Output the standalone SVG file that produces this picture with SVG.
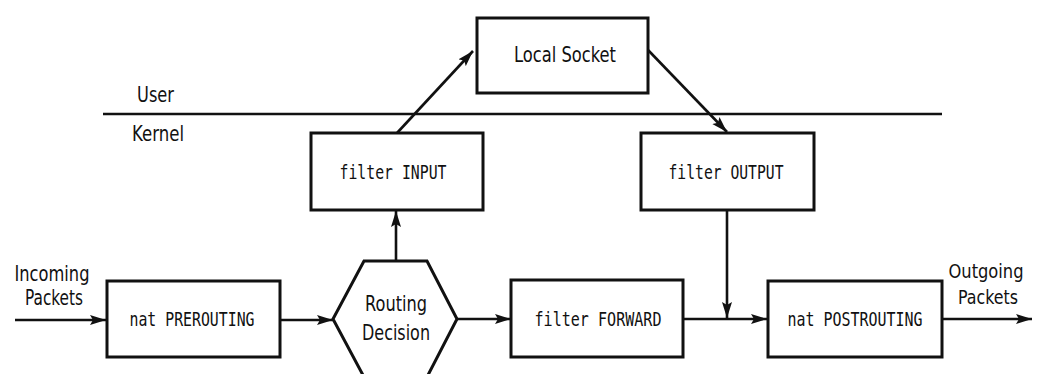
<svg xmlns="http://www.w3.org/2000/svg" width="1039" height="374" viewBox="0 0 1039 374">
<style>
.box{fill:#fff;stroke:#111;stroke-width:3}
.ln{fill:none;stroke:#111;stroke-width:2.6}
.mono{font-family:"DejaVu Sans Mono","Liberation Mono",monospace;font-size:19px;fill:#111;text-anchor:middle;dominant-baseline:central}
.sans{font-family:"DejaVu Sans","Liberation Sans",sans-serif;font-size:21px;fill:#111}
.c{text-anchor:middle}
.tight{font-family:"DejaVu Sans Condensed","DejaVu Sans","Liberation Sans",sans-serif;font-size:20px}
</style>
<defs>
<marker id="ah" markerUnits="userSpaceOnUse" markerWidth="17" markerHeight="11" viewBox="0 0 17 11" refX="16" refY="5.5" orient="auto">
<path d="M0,0.5 L16,5.5 L0,10.5 L3,5.5 Z" fill="#111"/>
</marker>
</defs>
<rect width="1039" height="374" fill="#fff"/>
<g id="boundary">
<line x1="103" y1="114" x2="942" y2="114" class="ln" stroke-width="3"/>
<text class="sans" x="137" y="102" textLength="37" lengthAdjust="spacingAndGlyphs">User</text>
<text class="sans" x="132" y="141" textLength="52" lengthAdjust="spacingAndGlyphs">Kernel</text>
</g>
<g id="connectors">
<line x1="15" y1="320" x2="106" y2="320" class="ln" marker-end="url(#ah)"/>
<line x1="280" y1="320" x2="333" y2="320" class="ln" marker-end="url(#ah)"/>
<line x1="457" y1="319" x2="511" y2="319" class="ln" marker-end="url(#ah)"/>
<line x1="396" y1="261" x2="396" y2="211" class="ln" marker-end="url(#ah)"/>
<line x1="397" y1="133" x2="473" y2="51" class="ln" marker-end="url(#ah)"/>
<line x1="648" y1="50" x2="727" y2="132" class="ln" marker-end="url(#ah)"/>
<line x1="727" y1="210" x2="727" y2="318" class="ln" marker-end="url(#ah)"/>
<line x1="683" y1="319" x2="767" y2="319" class="ln" marker-end="url(#ah)"/>
<line x1="942" y1="319" x2="1032" y2="319" class="ln" marker-end="url(#ah)"/>
</g>
<g id="incoming">
<text class="sans c" x="52" y="281" textLength="75" lengthAdjust="spacingAndGlyphs">Incoming</text>
<text class="sans c" x="54" y="305" textLength="58" lengthAdjust="spacingAndGlyphs">Packets</text>
</g>
<g id="outgoing">
<text class="sans c tight" x="986" y="278" textLength="75" lengthAdjust="spacingAndGlyphs">Outgoing</text>
<text class="sans c tight" x="988" y="304" textLength="60" lengthAdjust="spacingAndGlyphs">Packets</text>
</g>
<g id="nat-prerouting">
<rect class="box" x="107" y="281" width="173" height="76"/>
<text class="mono" x="192" y="319" textLength="125" lengthAdjust="spacingAndGlyphs">nat PREROUTING</text>
</g>
<g id="routing-decision">
<path class="box" d="M364,261 L427,261 L457,319 L427,377 L364,377 L333,319 Z"/>
<text class="sans c" x="396" y="311" textLength="62" lengthAdjust="spacingAndGlyphs">Routing</text>
<text class="sans c" x="396" y="340" textLength="68" lengthAdjust="spacingAndGlyphs">Decision</text>
</g>
<g id="filter-forward">
<rect class="box" x="511" y="280" width="172" height="77"/>
<text class="mono" x="598" y="319" textLength="127" lengthAdjust="spacingAndGlyphs">filter FORWARD</text>
</g>
<g id="nat-postrouting">
<rect class="box" x="768" y="281" width="174" height="76"/>
<text class="mono" x="855" y="319" textLength="135" lengthAdjust="spacingAndGlyphs">nat POSTROUTING</text>
</g>
<g id="filter-input">
<rect class="box" x="311" y="133" width="172" height="77"/>
<text class="mono" x="393" y="172" textLength="107" lengthAdjust="spacingAndGlyphs">filter INPUT</text>
</g>
<g id="filter-output">
<rect class="box" x="641" y="133" width="173" height="77"/>
<text class="mono" x="726" y="172" textLength="115" lengthAdjust="spacingAndGlyphs">filter OUTPUT</text>
</g>
<g id="local-socket">
<rect class="box" x="477" y="18" width="171" height="75"/>
<text class="sans c" x="565" y="62" textLength="102" lengthAdjust="spacingAndGlyphs">Local Socket</text>
</g>
</svg>
